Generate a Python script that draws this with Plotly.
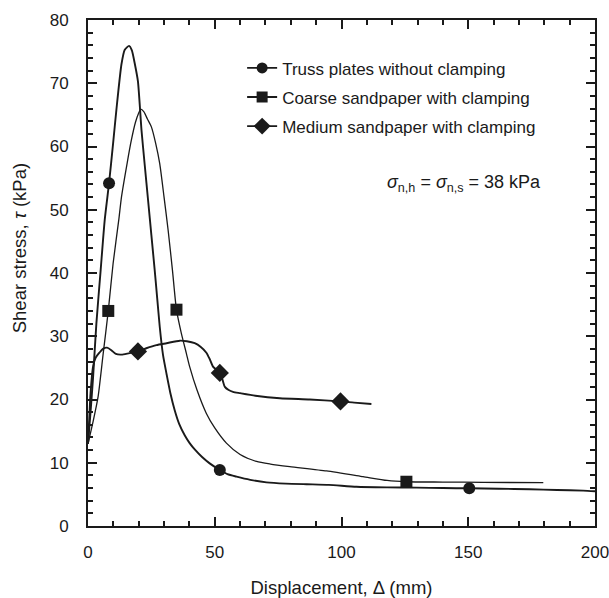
import plotly.graph_objects as go

# ---- data ----
truss_x = [0, 1, 2, 3.3, 5, 6.6, 8.3, 9.9, 11.2, 13.2, 14.5, 16.2, 17.3, 18.5, 19.7, 21.1, 22.4, 23.7,
           25, 26.3, 27.3, 28.3, 29.6, 31, 32.5, 34.2, 36, 38.2, 40.1, 42.1, 45, 48, 52, 55, 58.6,
           64, 70.4, 78, 86.2, 95, 105.9, 118, 129.6, 140, 150.4, 162, 174.3, 185, 195.3, 200]
truss_y = [13, 18, 23.5, 32, 40.5, 48.4, 54.2, 60.5, 65.8, 73, 75.3, 75.9, 75.2, 73, 70.3, 62.6, 57, 51.5,
           46, 40.5, 36, 31.5, 27, 24, 21, 18.3, 16.1, 14.3, 13.1, 12.1, 10.9, 9.9, 8.85, 8.2, 7.8,
           7.3, 6.9, 6.7, 6.6, 6.5, 6.2, 6.1, 6.06, 6.0, 5.96, 5.9, 5.8, 5.7, 5.6, 5.5]
truss_mx = [8.3, 52, 150.4]
truss_my = [54.2, 8.85, 5.96]

coarse_x = [0, 2, 4, 6, 8, 9.9, 12.2, 13.2, 15.5, 17.1, 18.7, 20, 20.8, 22, 23.5, 25, 26.7, 28.3, 30,
            31.6, 33.3, 34.9, 36.8, 38.8, 40.1, 43, 46.7, 50, 54.6, 60, 66.5, 72, 79.6, 94.1, 108.5,
            118, 125.6, 140, 155.9, 179.6]
coarse_y = [13, 16.5, 20.5, 27.3, 34, 41.5, 48.6, 52, 57.5, 61, 63.8, 65.3, 65.9, 65.5, 64.3, 63.1, 60.5,
            57.3, 52, 46.8, 40.5, 34.2, 30.5, 27.3, 25.2, 21.5, 17.8, 15.5, 13.1, 11.3, 10.2, 9.8,
            9.4, 8.7, 7.8, 7.2, 7.0, 6.95, 6.9, 6.85]
coarse_mx = [8, 34.9, 125.6]
coarse_my = [34, 34.2, 7.0]

medium_x = [0, 0.5, 1, 2, 3, 4.5, 5.9, 7.5, 9.2, 11, 13.2, 16, 19.7, 23, 27, 31, 36.2, 39, 42.1, 44.5,
            46.7, 48, 49.3, 52, 53, 54, 55.5, 57.2, 60, 66, 75.7, 87.5, 99.6, 105, 111.8]
medium_y = [13, 17, 21, 25.2, 26.6, 27.4, 28, 28.2, 27.8, 27.2, 27.1, 27.3, 27.6, 28.1, 28.6, 28.9,
            29.3, 29.2, 28.9, 28.3, 27.4, 26.4, 25.2, 24.2, 23.2, 22, 21.5, 21.2, 21, 20.6, 20.2,
            20.0, 19.7, 19.5, 19.3]
medium_mx = [19.7, 52, 99.6]
medium_my = [27.6, 24.2, 19.7]

names = ["Truss plates without clamping", "Coarse sandpaper with clamping", "Medium sandpaper with clamping"]
x_ticks = [0, 50, 100, 150, 200]
y_ticks = [0, 10, 20, 30, 40, 50, 60, 70, 80]

INK = "#1a1a1a"
FONT = "Liberation Sans, Arial, sans-serif"

series = [
    (truss_x, truss_y, truss_mx, truss_my, "circle", 12, 1.9),
    (coarse_x, coarse_y, coarse_mx, coarse_my, "square", 12, 1.3),
    (medium_x, medium_y, medium_mx, medium_my, "diamond", 14, 1.9),
]

fig = go.Figure()
for i, (lx, ly, mx, my, sym, msize, lw) in enumerate(series):
    g = "g%d" % i
    fig.add_trace(go.Scatter(x=lx, y=ly, mode="lines", line=dict(color=INK, width=lw, shape="spline", smoothing=0.6),
                             showlegend=False, legendgroup=g, hoverinfo="skip"))
    fig.add_trace(go.Scatter(x=mx, y=my, mode="markers", marker=dict(symbol=sym, size=msize, color=INK),
                             showlegend=False, legendgroup=g))
    fig.add_trace(go.Scatter(x=[None], y=[None], mode="lines+markers", name=names[i], legendgroup=g,
                             line=dict(color=INK, width=1.8),
                             marker=dict(symbol=sym, size=msize - 1, color=INK)))

fig.add_annotation(x=117, y=54.2, xref="x", yref="y", xanchor="left", yanchor="middle", showarrow=False,
                   text="<i>σ</i><sub>n,h</sub> = <i>σ</i><sub>n,s</sub> = 38 kPa",
                   font=dict(family=FONT, size=18, color=INK))

# y-axis title (placed as rotated text, centred where the reference has it)
fig.add_annotation(x=-0.136, y=0.549, xref="paper", yref="paper", xanchor="center", yanchor="middle",
                   showarrow=False, textangle=-90, text="Shear stress, <i>τ</i> (kPa)",
                   font=dict(family=FONT, size=18.5, color=INK))

axis_common = dict(showline=True, linecolor=INK, linewidth=2, mirror="allticks", ticks="inside",
                   tickwidth=2, tickcolor=INK, ticklen=9, showgrid=False, zeroline=False,
                   automargin=False, ticklabeloverflow="allow",
                   tickfont=dict(family=FONT, size=17, color=INK),
                   title_font=dict(family=FONT, size=18.5, color=INK))

fig.update_xaxes(range=[0, 200], tickvals=x_ticks, ticklabelstandoff=10,
                 minor=dict(dtick=10, ticks="inside", ticklen=5, tickwidth=2, tickcolor=INK, showgrid=False),
                 title_text="Displacement, Δ (mm)", title_standoff=20, **axis_common)
fig.update_yaxes(range=[0, 80], tickvals=y_ticks, ticklabelstandoff=14,
                 minor=dict(dtick=2, ticks="inside", ticklen=5, tickwidth=2, tickcolor=INK, showgrid=False),
                 **axis_common)

fig.update_layout(
    width=609, height=598,
    margin=dict(l=88, r=14, t=20, b=72),
    paper_bgcolor="white", plot_bgcolor="white",
    font=dict(family=FONT, size=17, color=INK),
    legend=dict(x=0.304, y=0.94, xanchor="left", yanchor="top", bgcolor="rgba(0,0,0,0)",
                font=dict(family=FONT, size=17, color=INK), tracegroupgap=4, traceorder="grouped"),
    showlegend=True,
)

fig.write_html("out.html")
